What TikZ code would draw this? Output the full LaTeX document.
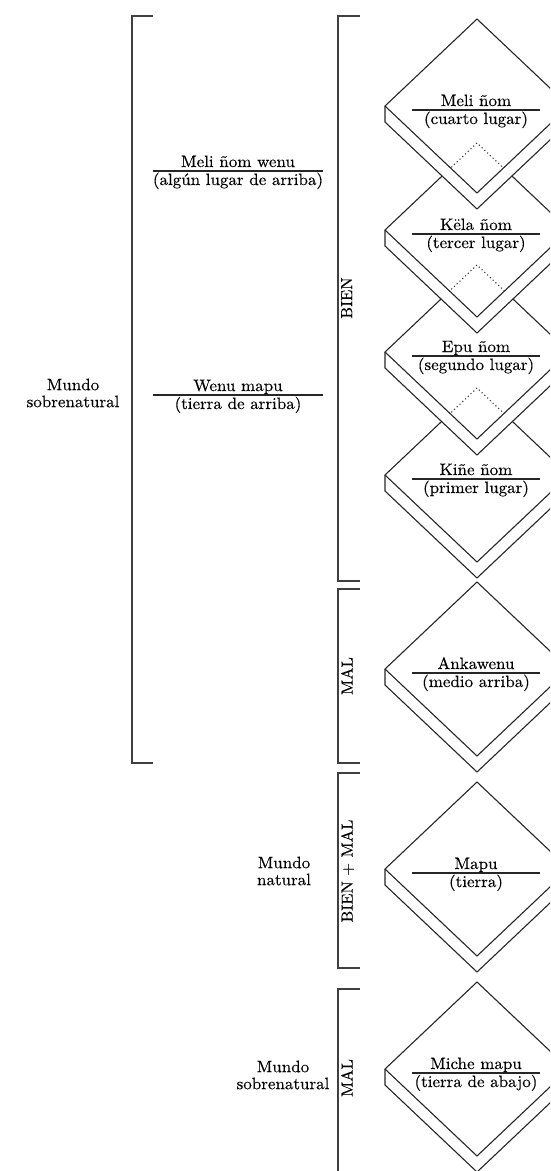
\documentclass[tikz,border=0pt]{standalone}
\usepackage{fontspec}
\setmainfont{lmroman10-regular.otf}[FakeStretch=1.03, FakeBold=0.3]
\usetikzlibrary{positioning}

\begin{document}
\begin{tikzpicture}[x=1pt, y=-1pt, font=\fontsize{16.5}{17}\selectfont]
    % Styles
    \tikzstyle{slab} = [draw=black!85, fill=white, line width=1.1pt, line join=round]
    \tikzstyle{hidden} = [draw=black!75, line width=1.1pt, dash pattern=on 1.2pt off 2.6pt]
    \tikzstyle{brace} = [draw=black!75, line width=1.3pt]
    \tikzstyle{bar} = [fill=black!85, inner sep=0pt, minimum height=1.1pt]
    \tikzstyle{word} = [inner sep=0pt, anchor=base]
    \tikzstyle{side} = [inner sep=0pt, rotate=90, anchor=north, font=\fontsize{16}{16}\selectfont]
    \tikzstyle{world} = [align=center, inner sep=0pt]

    \useasboundingbox (0,0) rectangle (550,1171);
    \clip (0,0) rectangle (550,1171);

    % Brackets
    \draw [brace] (153,16) -- (132,16) -- (132,763) -- (153,763);
    \draw [brace] (360,16) -- (338,16) -- (338,581) -- (360,581);
    \draw [brace] (360,589) -- (338,589) -- (338,763) -- (360,763);
    \draw [brace] (360,773) -- (338,773) -- (338,968) -- (360,968);
    \draw [brace] (360,989) -- (338,989) -- (338,1180);

    % Slabs, lowest first
    \filldraw [slab] (477,982) -- (385,1069) -- (385,1085) -- (477,1172) -- (569,1085) -- (569,1069) -- cycle;
    \draw [slab] (385,1069) -- (477,1156) -- (569,1069);
    \filldraw [slab] (477,782) -- (385,869) -- (385,885) -- (477,972) -- (569,885) -- (569,869) -- cycle;
    \draw [slab] (385,869) -- (477,956) -- (569,869);
    \filldraw [slab] (477,582) -- (385,669) -- (385,685) -- (477,772) -- (569,685) -- (569,669) -- cycle;
    \draw [slab] (385,669) -- (477,756) -- (569,669);
    \filldraw [slab] (477,388) -- (385,475) -- (385,491) -- (477,578) -- (569,491) -- (569,475) -- cycle;
    \draw [slab] (385,475) -- (477,562) -- (569,475);
    \filldraw [slab] (477,265) -- (385,352) -- (385,368) -- (477,455) -- (569,368) -- (569,352) -- cycle;
    \draw [slab] (385,352) -- (477,439) -- (569,352);
    \filldraw [slab] (477,143) -- (385,230) -- (385,246) -- (477,333) -- (569,246) -- (569,230) -- cycle;
    \draw [slab] (385,230) -- (477,317) -- (569,230);
    \filldraw [slab] (477,19) -- (385,106) -- (385,122) -- (477,209) -- (569,122) -- (569,106) -- cycle;
    \draw [slab] (385,106) -- (477,193) -- (569,106);

    % Hidden tops seen through the slab above
    \begin{scope}
        \clip (477,19) -- (385,106) -- (477,193) -- (569,106) -- cycle;
        \draw [hidden] (385,230) -- (477,143) -- (569,230);
    \end{scope}
    \begin{scope}
        \clip (477,143) -- (385,230) -- (477,317) -- (569,230) -- cycle;
        \draw [hidden] (385,352) -- (477,265) -- (569,352);
    \end{scope}
    \begin{scope}
        \clip (477,265) -- (385,352) -- (477,439) -- (569,352) -- cycle;
        \draw [hidden] (385,475) -- (477,388) -- (569,475);
    \end{scope}

    % Levels
    \node [bar, minimum width=128pt] (meli) at (476,110) {};
    \node [above=4pt of meli.center, word] (melin) {Meli ñom};
    \node [below=14pt of meli.center, word] (melis) {(cuarto lugar)};
    \node [bar, minimum width=128pt] (kela) at (476,234) {};
    \node [above=4pt of kela.center, word] (kelan) {Këla ñom};
    \node [below=14pt of kela.center, word] (kelas) {(tercer lugar)};
    \node [bar, minimum width=128pt] (epu) at (476,356) {};
    \node [above=4pt of epu.center, word] (epun) {Epu ñom};
    \node [below=14pt of epu.center, word] (epus) {(segundo lugar)};
    \node [bar, minimum width=128pt] (kine) at (476,479) {};
    \node [above=4pt of kine.center, word] (kinen) {Kiñe ñom};
    \node [below=14pt of kine.center, word] (kines) {(primer lugar)};
    \node [bar, minimum width=128pt] (ankawenu) at (476,673) {};
    \node [above=4pt of ankawenu.center, word] (ankawenun) {Ankawenu};
    \node [below=14pt of ankawenu.center, word] (ankawenus) {(medio arriba)};
    \node [bar, minimum width=128pt] (mapu) at (476,873) {};
    \node [above=4pt of mapu.center, word] (mapun) {Mapu};
    \node [below=14pt of mapu.center, word] (mapus) {(tierra)};
    \node [bar, minimum width=128pt] (miche) at (476,1073) {};
    \node [above=4pt of miche.center, word] (michen) {Miche mapu};
    \node [below=14pt of miche.center, word] (miches) {(tierra de abajo)};

    % Upper world
    \node [bar, minimum width=170pt] (wenu) at (238,171) {};
    \node [above=4pt of wenu.center, word] (wenun) {Meli ñom wenu};
    \node [below=14pt of wenu.center, word] (wenus) {(algún lugar de arriba)};
    \node [bar, minimum width=170pt] (wenumapu) at (238,395) {};
    \node [above=4pt of wenumapu.center, word] (wenumapun) {Wenu mapu};
    \node [below=14pt of wenumapu.center, word] (wenumapus) {(tierra de arriba)};

    % Side labels
    \node [side] (bien) at (341,298) {BIEN};
    \node [side] (mal) at (341,676) {MAL};
    \node [side] (bienmal) at (341,871) {BIEN + MAL};
    \node [side] (malabajo) at (341,1078) {MAL};

    \node [world] (sobre) at (73,393) {Mundo\\sobrenatural};
    \node [world] (natural) at (284,871) {Mundo\\natural};
    \node [world] (sobreabajo) at (283,1075) {Mundo\\sobrenatural};

\end{tikzpicture}
\end{document}
